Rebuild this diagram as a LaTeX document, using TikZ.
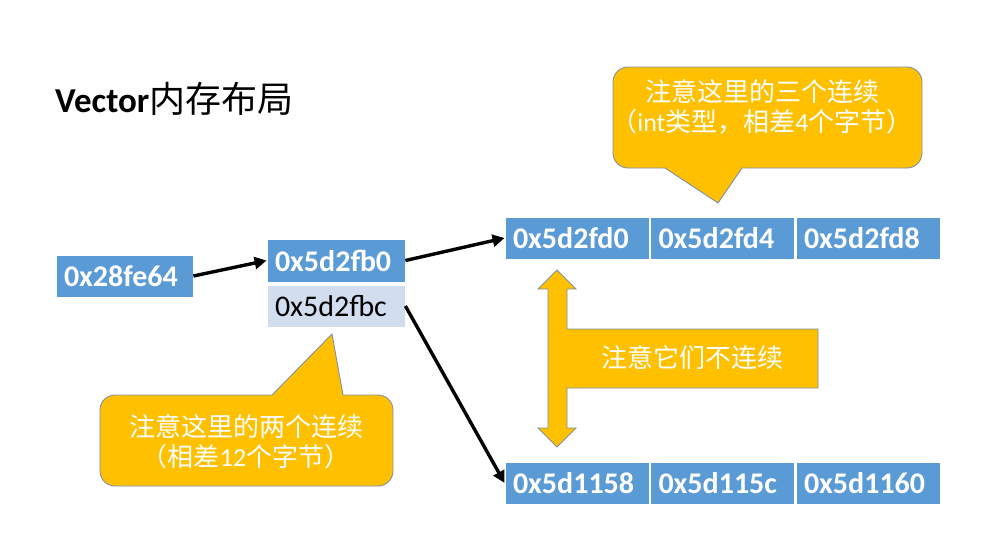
\documentclass[tikz,border=0pt]{standalone}
\usepackage{fontspec}
\setmainfont{Carlito}
\newfontfamily\cjk{Noto Sans CJK SC}
\usetikzlibrary{arrows.meta}

\definecolor{cellblue}{HTML}{5B9BD5}
\definecolor{celllight}{HTML}{D2DEEF}
\definecolor{noteyellow}{HTML}{FFC000}
\definecolor{noteedge}{HTML}{7F91A8}

\begin{document}
\begin{tikzpicture}[x=1pt, y=-1pt,
		cell/.style={fill=cellblue, draw=white, line width=0.8pt, text=white, inner xsep=8pt, inner ysep=0pt,
			text width=#1, align=left, minimum height=42pt, font=\fontsize{30}{36}\selectfont\bfseries},
		cell/.default=128pt,
		link/.style={line width=3.4pt, -{Triangle[length=12pt, width=12pt]}},
		callout/.style={fill=noteyellow, draw=noteedge, line width=0.9pt},
		notetext/.style={text=white, align=center, font=\fontsize{26}{30}\selectfont\cjk}]

	\fill[white] (0,0) rectangle (986,538);
	\useasboundingbox (0,0) rectangle (986,538);

	% title
	\draw (55, 112) 	node[anchor=base west, inner sep=0pt, font=\fontsize{35}{40}\selectfont] 	(title) 	{\textbf{Vector}{\cjk\fontsize{36}{40}\selectfont 内存布局}};

	% pointer and the vector object
	\draw (124.5, 276) 	node[cell=121pt] 						(ptr) 		{0x28fe64};
	\draw (336, 260.5) 	node[cell=122pt, minimum height=43pt] 	(first) 	{0x5d2fb0};
	\draw (336, 306) 	node[cell=122pt, fill=celllight, text=black, font=\fontsize{30}{36}\selectfont] 	(last) 	{0x5d2fbc};

	% the two int blocks
	\draw (577, 238) 	node[cell] 	(upa) 		{0x5d2fd0};
	\draw (722.5, 238) 	node[cell] 	(upb) 		{0x5d2fd4};
	\draw (868, 238) 	node[cell] 	(upc) 		{0x5d2fd8};
	\draw (577, 483) 	node[cell] 	(lowa) 		{0x5d1158};
	\draw (722.5, 483) 	node[cell] 	(lowb) 		{0x5d115c};
	\draw (868, 483) 	node[cell] 	(lowc) 		{0x5d1160};

	\draw[link] (ptr.east) -- (first.west);
	\draw[link] (first.east) -- (upa.west);
	\draw[link] (last.east) -- (lowa.west);

	% callouts
	\draw[callout] (665,168) -- (718,203) -- (742,168) [rounded corners=15pt] -- (922,168) -- (922,67) -- (613,67) -- (613,168) [sharp corners] -- cycle;
	\draw (762, 107) 	node[notetext] 	(notethree) 	{注意这里的三个连续\\（{\fontspec{Carlito}int}类型，相差{\fontspec{Carlito}4}个字节）};

	\draw[callout] (343,395) -- (332,334) -- (272,395) [rounded corners=15pt] -- (100,395) -- (100,486) -- (393,486) -- (393,395) [sharp corners] -- cycle;
	\draw (246, 441.5) 	node[notetext] 	(notetwo) 		{注意这里的两个连续\\（相差{\fontspec{Carlito}12}个字节）};

	\draw[callout] (548,289) -- (538,289) -- (557,270) -- (576,289) -- (567,289) -- (567,329) -- (818,329) -- (818,388) -- (567,388)
		-- (567,428) -- (576,428) -- (557,447) -- (538,428) -- (548,428) -- cycle;
	\draw (692, 358) 	node[notetext] 	(notegap) 		{注意它们不连续};
\end{tikzpicture}
\end{document}
